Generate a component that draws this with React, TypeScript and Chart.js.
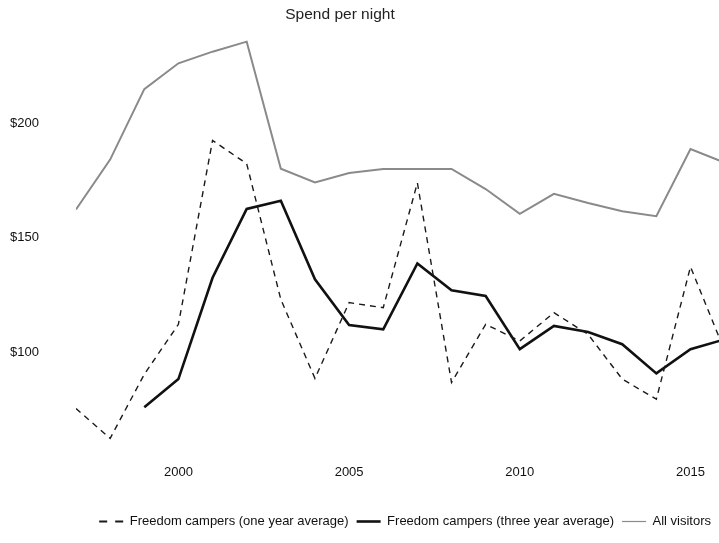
import React, { useEffect, useRef } from "react";
import { Chart, registerables } from "chart.js";

Chart.register(...registerables);

const years = [1997, 1998, 1999, 2000, 2001, 2002, 2003, 2004, 2005, 2006, 2007, 2008, 2009, 2010, 2011, 2012, 2013, 2014, 2015, 2016];
const oneYear = [75.2, 62.1, 90.2, 112.1, 192.7, 182.5, 123, 88.4, 121.6, 119.4, 174.1, 86.6, 112.1, 104.8, 117.2, 107.7, 88.1, 79.3, 137.3, 100.5];
const threeYear = [null, null, 75.7, 88.1, 132.5, 162.7, 166.3, 131.8, 111.8, 109.9, 138.8, 127, 124.5, 101.2, 111.4, 108.7, 103.4, 90.6, 101.2, 105.5];
const allVisitors = [162.4, 184.3, 215.2, 226.5, 231.6, 236, 180.3, 174.3, 178.4, 180.2, 180.2, 180.2, 171.4, 160.5, 169.3, 165.3, 161.7, 159.5, 188.9, 183];
const xTicks = [2000, 2005, 2010, 2015];
const yTicks = [100, 150, 200];
const seriesLabels = ["Freedom campers (one year average)", "Freedom campers (three year average)", "All visitors"];
const title = "Spend per night";

const FONT = "'Liberation Sans', Arial, Helvetica, sans-serif";

const titlePlugin = {
  id: "customTitle",
  afterDraw(chart: any) {
    const ctx = chart.ctx;
    ctx.save();
    ctx.font = `15.5px ${FONT}`;
    ctx.fillStyle = "#222";
    ctx.textAlign = "center";
    ctx.textBaseline = "middle";
    ctx.fillText(title, 340, 15);
    ctx.restore();
  },
};

export default function App() {
  const ref = useRef<HTMLCanvasElement | null>(null);

  useEffect(() => {
    document.body.style.margin = "0";
    const toPts = (vals: (number | null)[]) => years.map((x, i) => ({ x, y: vals[i] }));
    const chart = new Chart(ref.current as HTMLCanvasElement, {
      type: "line",
      data: {
        datasets: [
          {
            label: seriesLabels[0],
            data: toPts(oneYear) as any,
            borderColor: "#1a1a1a",
            borderWidth: 1.4,
            borderDash: [6, 5],
            pointRadius: 0,
            tension: 0,
          },
          {
            label: seriesLabels[1],
            data: toPts(threeYear) as any,
            borderColor: "#111",
            borderWidth: 2.6,
            pointRadius: 0,
            tension: 0,
          },
          {
            label: seriesLabels[2],
            data: toPts(allVisitors) as any,
            borderColor: "#8a8a8a",
            borderWidth: 2,
            pointRadius: 0,
            tension: 0,
          },
        ],
      },
      options: {
        responsive: false,
        animation: false,
        layout: { padding: { top: 32.5, left: 0, right: 0, bottom: 5 } },
        plugins: {
          title: { display: false },
          tooltip: { enabled: false },
          legend: {
            display: true,
            position: "bottom",
            align: "end",
            labels: {
              usePointStyle: true,
              pointStyle: "line",
              pointStyleWidth: 24,
              padding: 8,
              color: "#111",
              font: { size: 13, family: FONT },
              generateLabels: (c: any) => {
                const items = Chart.defaults.plugins.legend.labels.generateLabels(c);
                return items.map((it: any, i: number) => {
                  if (i === 0) return { ...it, lineDash: [8, 8], lineWidth: 2 };
                  if (i === 2) return { ...it, lineWidth: 1.2 };
                  return it;
                });
              },
            },
          },
        },
        scales: {
          x: {
            type: "linear",
            min: 1997,
            max: 2015.835,
            grid: { display: false, drawTicks: false },
            border: { display: false },
            afterBuildTicks: (s: any) => {
              s.ticks = xTicks.map((v) => ({ value: v }));
            },
            afterFit: (s: any) => {
              s.height = 52.4;
              s.paddingLeft = 0;
              s.paddingRight = 0;
            },
            ticks: {
              padding: 10,
              maxRotation: 0,
              color: "#111",
              font: { size: 13, family: FONT },
              callback: (v: any) => String(v),
            },
          },
          y: {
            type: "linear",
            min: 55,
            max: 240,
            grid: { display: false, drawTicks: false },
            border: { display: false },
            afterBuildTicks: (s: any) => {
              s.ticks = yTicks.map((v) => ({ value: v }));
            },
            afterFit: (s: any) => {
              s.width = 76;
              s.paddingTop = 0;
              s.paddingBottom = 0;
            },
            ticks: {
              padding: 37,
              color: "#111",
              font: { size: 13, family: FONT },
              callback: (v: any) => "$" + v,
            },
          },
        },
      },
      plugins: [titlePlugin],
    });
    return () => chart.destroy();
  }, []);

  return (
    <div style={{ width: 719, height: 543 }}>
      <canvas ref={ref} width={719} height={543} style={{ display: "block" }} />
    </div>
  );
}
